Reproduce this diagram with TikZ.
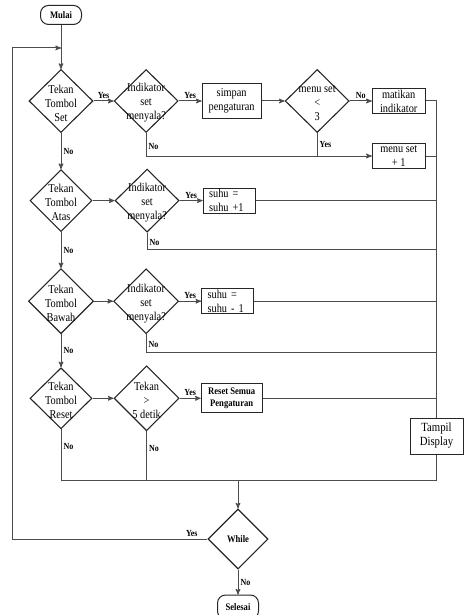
\documentclass[tikz,border=0pt]{standalone}
\usepackage{fontspec}
\setmainfont{Liberation Serif}[FakeStretch=0.86]
\usepackage{tikz}
\usetikzlibrary{arrows,positioning,shapes.geometric}
\tikzset{
    %Define standard arrow tip
    >=stealth',
    %Define style for decisions
    keputusan/.style={
           diamond,
           draw=black!85, line width=1.1pt,
           minimum width=64pt,
           minimum height=63pt,
           inner sep=0pt},
    %Define style for boxes
    kotak/.style={
           rectangle,
           draw=black!85, line width=1pt,
           font=\fontsize{12}{14}\selectfont,
           align=center,
           inner sep=0pt},
    terminal/.style={
           rectangle,
           rounded corners=8pt,
           draw=black!85, line width=1pt,
           font=\fontsize{10}{11}\selectfont\bfseries,
           minimum width=41pt,
           minimum height=19pt,
           inner sep=0pt},
    % Define text styles
    isi/.style={
           align=center,
           font=\fontsize{12}{14}\selectfont,
           yshift=-2pt,
           inner sep=0pt},
    ket/.style={
           font=\fontsize{9.3}{10}\selectfont\bfseries,
           inner sep=2pt},
    % Define arrow style
    alur/.style={
           ->,
           draw=black!70,
           line width=1pt},
    garis/.style={
           draw=black!70,
           line width=1pt},
}
\begin{document}
\begin{tikzpicture}[x=1pt, y=-1pt, node distance=20pt]
 \useasboundingbox (0,0) rectangle (474,615);
 %nodes
 \node[keputusan, label={[isi]center:Tekan\\Tombol\\Set}] (tset) at (61,101) {};
 \node[terminal, above=44pt of tset] (mulai) {Mulai};
 \node[keputusan, right=20pt of tset, label={[isi]center:Indikator\\set\\menyala?}] (ind1) {};
 \node[kotak, minimum width=59pt, minimum height=35pt, right=23pt of ind1] (simpan) {simpan\\pengaturan};
 \node[keputusan, right=23pt of simpan, label={[isi]center:menu set\\<\\3}] (menu) {};
 \node[kotak, minimum width=53pt, minimum height=25pt, inner ysep=-1.5pt, right=22pt of menu] (matikan) {matikan\\indikator};
 \node[kotak, minimum width=53pt, minimum height=25pt, inner ysep=-1.5pt, below=29pt of matikan] (tambah) {menu set\\+ 1};
 \node[keputusan, minimum width=62pt, minimum height=62pt, below=36pt of tset, label={[isi]center:Tekan\\Tombol\\Atas}] (tatas) {};
 \node[keputusan, right=22pt of tatas, label={[isi]center:Indikator\\set\\menyala?}] (ind2) {};
 \node[kotak, text width=40pt, align=left, inner xsep=6pt, inner ysep=-1.5pt, minimum height=25pt, right=23pt of ind2] (naik) {suhu =\\suhu +1};
 \node[keputusan, minimum width=65pt, minimum height=65pt, below=36pt of tatas, label={[isi]center:Tekan\\Tombol\\Bawah}] (tbawah) {};
 \node[keputusan, minimum width=65pt, minimum height=65pt, right=19pt of tbawah, label={[isi]center:Indikator\\set\\menyala?}] (ind3) {};
 \node[kotak, text width=40pt, align=left, inner xsep=6pt, inner ysep=-1.5pt, minimum height=25pt, right=22pt of ind3] (turun) {suhu =\\suhu - 1};
 \node[keputusan, minimum width=62pt, minimum height=61pt, below=33pt of tbawah, label={[isi]center:Tekan\\Tombol\\Reset}] (treset) {};
 \node[keputusan, minimum width=65pt, minimum height=65pt, right=21pt of treset, label={[isi]center:Tekan\\>\\5 detik}] (lima) {};
 \node[kotak, minimum width=61pt, minimum height=29pt, font=\fontsize{10}{12.5}\selectfont\bfseries, right=21pt of lima] (reset) {Reset Semua\\Pengaturan};
 \node[kotak, minimum width=53pt, minimum height=36pt, font=\fontsize{12.5}{14}\selectfont] (tampil) at (436.5,436) {Tampil\\Display};
 \node[keputusan, minimum width=60pt, minimum height=60pt, font=\fontsize{10}{11}\selectfont\bfseries] (while) at (238,539) {While};
 \node[terminal, minimum height=24pt, below=25pt of while] (selesai) {Selesai};
 \coordinate (kiri) at (12,48);
 \coordinate (n2) at (436.5,249);
 \coordinate (n3) at (436.5,352);
 \coordinate (gabung) at (238,480);
 %edges
 \draw[alur] (mulai) -- (tset);
 \draw[alur] (while.west) -| node[ket, above, pos=0.04] {Yes} (kiri) -- (kiri -| tset.north);
 \draw[alur] (tset) -- node[ket, above] {Yes} (ind1);
 \draw[alur] (ind1) -- node[ket, above] {Yes} (simpan);
 \draw[alur] (simpan) -- (menu);
 \draw[alur] (menu) -- node[ket, above] {No} (matikan);
 \draw[alur] (ind1.south) |- node[ket, right, pos=0.3] {No} (tambah.west);
 \draw[garis] (menu.south) -- node[ket, right] {Yes} (menu.south |- tambah.west);
 \draw[garis] (matikan.east) -| (tampil.north);
 \draw[garis] (tambah.east) -- (tambah.east -| tampil.north);
 \draw[alur] (tset) -- node[ket, right] {No} (tatas);
 \draw[alur] (tatas) -- (ind2);
 \draw[alur] (ind2) -- node[ket, above] {Yes} (naik);
 \draw[garis] (naik.east) -- (naik.east -| tampil.north);
 \draw[garis] (ind2.south) |- node[ket, right, pos=0.3] {No} (n2);
 \draw[alur] (tatas) -- node[ket, right] {No} (tbawah);
 \draw[alur] (tbawah) -- (ind3);
 \draw[alur] (ind3) -- node[ket, above] {Yes} (turun);
 \draw[garis] (turun.east) -- (turun.east -| tampil.north);
 \draw[garis] (ind3.south) |- node[ket, right, pos=0.3] {No} (n3);
 \draw[alur] (tbawah) -- node[ket, right] {No} (treset);
 \draw[alur] (treset) -- (lima);
 \draw[alur] (lima) -- node[ket, above] {Yes} (reset);
 \draw[garis] (reset.east) -- (reset.east -| tampil.north);
 \draw[garis] (treset.south) -- node[ket, right, pos=0.33] {No} (treset.south |- gabung) -- (tampil.south |- gabung) -- (tampil.south);
 \draw[garis] (lima.south) -- node[ket, right, pos=0.35] {No} (lima.south |- gabung);
 \draw[alur] (gabung) -- (while);
 \draw[alur] (while) -- node[ket, right] {No} (selesai);
\end{tikzpicture}
\end{document}
